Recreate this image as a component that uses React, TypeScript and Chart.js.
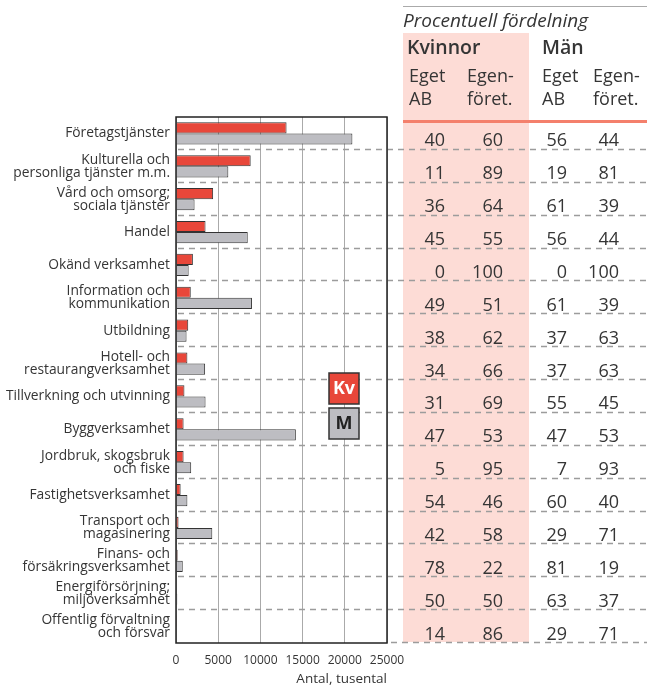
import React, { useEffect, useRef } from "react";
import { Chart, registerables } from "chart.js";

Chart.register(...registerables);

const categories: string[][] = [
  ["Företagstjänster"],
  ["Kulturella och", "personliga tjänster m.m."],
  ["Vård och omsorg;", "sociala tjänster"],
  ["Handel"],
  ["Okänd verksamhet"],
  ["Information och", "kommunikation"],
  ["Utbildning"],
  ["Hotell- och", "restaurangverksamhet"],
  ["Tillverkning och utvinning"],
  ["Byggverksamhet"],
  ["Jordbruk, skogsbruk", "och fiske"],
  ["Fastighetsverksamhet"],
  ["Transport och", "magasinering"],
  ["Finans- och", "försäkringsverksamhet"],
  ["Energiförsörjning;", "miljöverksamhet"],
  ["Offentlig förvaltning", "och försvar"],
];

const kvinnor = [13100, 8850, 4400, 3500, 2000, 1750, 1450, 1350, 1000, 900, 900, 550, 300, 200, 50, 20];
const man = [20900, 6200, 2200, 8500, 1500, 9000, 1250, 3450, 3500, 14200, 1800, 1350, 4300, 800, 150, 50];

const kvEgetAB = [40, 11, 36, 45, 0, 49, 38, 34, 31, 47, 5, 54, 42, 78, 50, 14];
const kvEgenforet = [60, 89, 64, 55, 100, 51, 62, 66, 69, 53, 95, 46, 58, 22, 50, 86];
const manEgetAB = [56, 19, 61, 56, 0, 61, 37, 37, 55, 47, 7, 60, 29, 81, 63, 29];
const manEgenforet = [44, 81, 39, 44, 100, 39, 63, 63, 45, 53, 93, 40, 71, 19, 37, 71];

const xTicks = [0, 5000, 10000, 15000, 20000, 25000];

const FONT = "'Open Sans', 'Noto Sans', sans-serif";
const TEXT = "#353535";
const RED = "#e8473a";
const GRAY = "#bdbdc2";

const overlayPlugin = {
  id: "overlay",
  beforeDatasetsDraw(chart: any) {
    const { ctx, chartArea } = chart;
    const W = chart.width;
    const n = categories.length;
    const rowH = (chartArea.bottom - chartArea.top) / n;
    ctx.save();
    ctx.fillStyle = "#fddcd6";
    ctx.fillRect(403, 33, 126, chartArea.bottom - 1 - 33);
    ctx.strokeStyle = "#9c9c9c";
    ctx.lineWidth = 1.3;
    ctx.setLineDash([6, 5]);
    for (let k = 1; k <= n; k++) {
      const y = Math.round(chartArea.top + k * rowH) - 0.5;
      ctx.beginPath();
      ctx.moveTo(k === n ? chartArea.right + 4 : chartArea.left + 2, y);
      ctx.lineTo(W, y);
      ctx.stroke();
    }
    ctx.restore();
  },
  afterDraw(chart: any) {
    const { ctx, chartArea } = chart;
    const W = chart.width;
    const n = categories.length;
    const rowH = (chartArea.bottom - chartArea.top) / n;
    ctx.save();
    ctx.strokeStyle = "#222";
    ctx.lineWidth = 1.5;
    ctx.strokeRect(chartArea.left, chartArea.top, chartArea.right - chartArea.left, chartArea.bottom - chartArea.top);

    ctx.strokeStyle = "#aaaaaa";
    ctx.lineWidth = 1;
    ctx.beginPath();
    ctx.moveTo(403, 6.5);
    ctx.lineTo(W, 6.5);
    ctx.stroke();

    ctx.fillStyle = TEXT;
    ctx.textBaseline = "alphabetic";
    ctx.textAlign = "left";
    ctx.font = `italic 19px ${FONT}`;
    ctx.fillText("Procentuell fördelning", 403, 27);
    ctx.font = `600 19.5px ${FONT}`;
    ctx.fillText("Kvinnor", 407, 54);
    ctx.fillText("Män", 542, 54);
    ctx.font = `18px ${FONT}`;
    ctx.fillText("Eget", 409, 82);
    ctx.fillText("AB", 409, 105);
    ctx.fillText("Egen-", 467, 82);
    ctx.fillText("föret.", 467, 105);
    ctx.fillText("Eget", 542, 82);
    ctx.fillText("AB", 542, 105);
    ctx.fillText("Egen-", 593, 82);
    ctx.fillText("föret.", 593, 105);

    ctx.strokeStyle = "#f4806c";
    ctx.lineWidth = 3;
    ctx.beginPath();
    ctx.moveTo(403, 121.5);
    ctx.lineTo(W, 121.5);
    ctx.stroke();

    ctx.font = `18px ${FONT}`;
    ctx.textAlign = "right";
    const cols: [number[], number][] = [
      [kvEgetAB, 445],
      [kvEgenforet, 503],
      [manEgetAB, 567],
      [manEgenforet, 619],
    ];
    for (let i = 0; i < n; i++) {
      const yb = chartArea.top + (i + 1) * rowH - 3.5;
      for (const [arr, x] of cols) {
        ctx.fillText(String(arr[i]), x, yb);
      }
    }

    const boxes: [string, string, string, number][] = [
      ["Kv", RED, "#ffffff", 373],
      ["M", GRAY, "#222222", 408],
    ];
    for (const [label, fill, tc, y] of boxes) {
      ctx.fillStyle = fill;
      ctx.fillRect(329, y, 30, 31);
      ctx.strokeStyle = "#333";
      ctx.lineWidth = 1.5;
      ctx.strokeRect(329, y, 30, 31);
      ctx.fillStyle = tc;
      ctx.font = `bold 18px ${FONT}`;
      ctx.textAlign = "center";
      ctx.textBaseline = "middle";
      ctx.fillText(label, 344, y + 16);
    }
    ctx.restore();
  },
};

export default function App() {
  const ref = useRef<HTMLCanvasElement | null>(null);
  useEffect(() => {
    if (!ref.current) return;
    const chart = new Chart(ref.current, {
      type: "bar",
      data: {
        labels: categories,
        datasets: [
          {
            label: "Kv",
            data: kvinnor,
            backgroundColor: RED,
            borderColor: "#333",
            borderWidth: 1,
            categoryPercentage: 0.68,
            barPercentage: 1,
          },
          {
            label: "M",
            data: man,
            backgroundColor: GRAY,
            borderColor: "#333",
            borderWidth: 1,
            categoryPercentage: 0.68,
            barPercentage: 1,
          },
        ],
      },
      options: {
        indexAxis: "y",
        responsive: false,
        animation: false,
        devicePixelRatio: 1,
        layout: { padding: { left: 0, right: 260, top: 117, bottom: 0 } },
        plugins: {
          legend: { display: false },
          tooltip: { enabled: false },
          title: { display: false },
        },
        scales: {
          x: {
            type: "linear",
            min: 0,
            max: 25000,
            afterBuildTicks: (s: any) => {
              s.ticks = xTicks.map((v) => ({ value: v }));
            },
            afterFit: (s: any) => {
              s.height = 44;
            },
            ticks: {
              callback: (v: any) => String(v),
              font: { family: FONT, size: 12 },
              color: TEXT,
              padding: 10,
              maxRotation: 0,
            },
            grid: { color: "#aaaaaa", lineWidth: 1, drawTicks: false },
            border: { display: false },
            title: {
              display: true,
              text: "Antal, tusental",
              align: "end",
              font: { family: FONT, size: 13.5 },
              color: TEXT,
              padding: { top: 0, bottom: 0 },
            },
          },
          y: {
            type: "category",
            afterFit: (s: any) => {
              s.width = 176;
            },
            ticks: {
              font: { family: FONT, size: 13.8, lineHeight: 0.93 },
              color: TEXT,
              padding: 6,
              autoSkip: false,
            },
            grid: { display: false, drawTicks: false },
            border: { display: false },
          },
        },
      },
      plugins: [overlayPlugin],
    } as any);
    return () => chart.destroy();
  }, []);
  return (
    <div style={{ position: "absolute", left: 0, top: 0, width: 647, height: 687, background: "#fff" }}>
      <canvas ref={ref} width={647} height={687} style={{ display: "block" }} />
    </div>
  );
}
